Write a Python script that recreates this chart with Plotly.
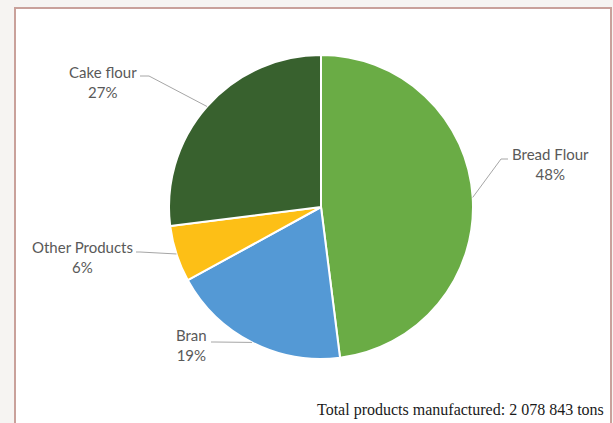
import math
import plotly.graph_objects as go

# ---- data ----
labels = ["Bread Flour", "Bran", "Other Products", "Cake flour"]
values = [48, 19, 6, 27]
colors = ["#6AAC45", "#5499D5", "#FDBF16", "#38612E"]
footnote = "Total products manufactured: 2 078 843 tons"

W, H = 613, 423
CX, CY, R = 321, 207, 152  # pie centre/radius in pixels (layout)

# label placement (pixel layout: text centre x, first-line centre y, leader start, elbow x)
label_layout = {
    "Cake flour":     dict(tx=103, ty=72, lx=140, ly=76, ex=149),
    "Other Products": dict(tx=82,  ty=247, lx=136, ly=252, ex=140),
    "Bran":           dict(tx=192, ty=335, lx=211, ly=342, ex=215),
    "Bread Flour":    dict(tx=550, ty=154, lx=508, ly=159, ex=501),
}

def px(x):
    return x / W

def py(y):
    return 1 - y / H

fig = go.Figure()

fig.add_trace(go.Pie(
    labels=labels,
    values=values,
    sort=False,
    direction="clockwise",
    rotation=0,
    marker=dict(colors=colors, line=dict(color="white", width=2)),
    textinfo="none",
    hoverinfo="label+percent",
    showlegend=False,
    domain=dict(x=[px(CX - R), px(CX + R)], y=[py(CY + R), py(CY - R)]),
))

shapes = []
# frame (white panel with rosy border, open at the bottom)
shapes.append(dict(type="rect", xref="paper", yref="paper",
                   x0=px(15), x1=px(611), y0=-0.1, y1=py(8),
                   fillcolor="white", line=dict(color="#C9A19B", width=2), layer="below"))

annotations = []
total = sum(values)
cum = 0
for lab, v in zip(labels, values):
    mid = (cum + v / 2) / total * 360
    cum += v
    th = math.radians(mid)
    ex_ = CX + R * math.sin(th)
    ey_ = CY - R * math.cos(th)
    L = label_layout[lab]
    path = "M {} {} L {} {} L {} {}".format(
        px(L["lx"]), py(L["ly"]), px(L["ex"]), py(L["ly"]), px(ex_), py(ey_))
    shapes.append(dict(type="path", xref="paper", yref="paper", path=path,
                       line=dict(color="#A6A6A6", width=1)))
    pct = round(v / total * 100)
    annotations.append(dict(
        x=px(L["tx"]), y=py(L["ty"] + 10), xref="paper", yref="paper",
        text=f"{lab}<br>{pct}%", showarrow=False, xanchor="center", yanchor="middle",
        align="center", font=dict(family="Lato, Carlito, sans-serif", size=15, color="#595959"),
    ))

annotations.append(dict(
    x=px(606), y=py(410), xref="paper", yref="paper", text=footnote, showarrow=False,
    xanchor="right", yanchor="middle",
    font=dict(family="Liberation Serif, Times New Roman, serif", size=16, color="#1a1a1a"),
))

fig.update_layout(
    width=W, height=H,
    margin=dict(l=0, r=0, t=0, b=0),
    paper_bgcolor="#F6F4F2",
    plot_bgcolor="white",
    shapes=shapes,
    annotations=annotations,
)

fig.write_html("out.html", config={"displayModeBar": False},
               post_script="document.body.style.margin='0';document.body.style.overflow='hidden';")
